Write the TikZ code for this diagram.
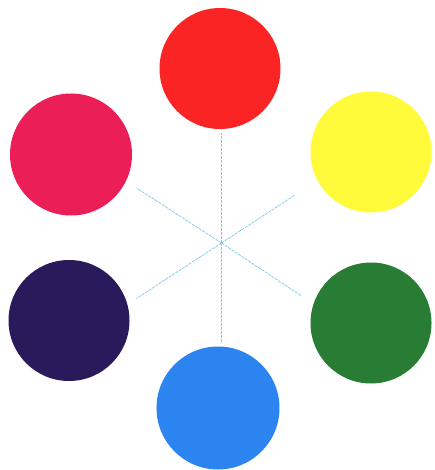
\documentclass[tikz,border=0pt]{standalone}
\definecolor{cred}{RGB}{250,36,36}
\definecolor{cpink}{RGB}{236,30,88}
\definecolor{cyellow}{RGB}{255,250,58}
\definecolor{cpurple}{RGB}{42,26,92}
\definecolor{cgreen}{RGB}{40,124,52}
\definecolor{cblue}{RGB}{44,132,240}
\definecolor{cline}{RGB}{120,205,225}
\begin{document}
\begin{tikzpicture}[x=1pt,y=-1pt,
  disc/.style={circle,inner sep=0pt,minimum size=121pt,draw=none},
  spoke/.style={draw=cline,line width=0.7pt,dash pattern=on 3pt off 1pt}]
\useasboundingbox[fill=white] (0,0) rectangle (434,470);
\node[disc,fill=cred]    (red)    at (220,68.5) {};
\node[disc,fill=cyellow] (yellow) at (371,152) {};
\node[disc,fill=cgreen]  (green)  at (371,323) {};
\node[disc,fill=cblue,minimum size=123pt] (blue) at (218,408) {};
\node[disc,fill=cpurple] (purple) at (69,320.5) {};
\node[disc,fill=cpink,minimum size=122pt] (pink) at (71,154.5) {};
\coordinate (c) at (221.5,243);
\coordinate (n)  at (221.5,133);
\coordinate (s)  at (221.5,342);
\coordinate (nw) at (136.5,188);
\coordinate (ne) at (295,195);
\coordinate (sw) at (136.5,298.5);
\coordinate (se) at (301.5,296);
\draw[spoke] (c) -- (n);
\draw[spoke] (c) -- (s);
\draw[spoke] (c) -- (nw);
\draw[spoke] (c) -- (ne);
\draw[spoke] (c) -- (sw);
\draw[spoke] (c) -- (se);
\end{tikzpicture}
\end{document}
